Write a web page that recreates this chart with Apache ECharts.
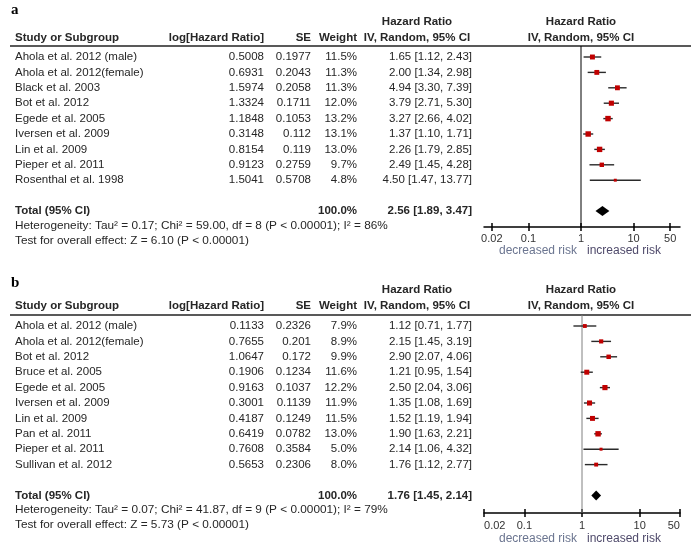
<!DOCTYPE html>
<html><head><meta charset="utf-8">
<script src="https://cdn.jsdelivr.net/npm/echarts@6/dist/echarts.min.js"></script>
<style>html,body{margin:0;padding:0;background:#fff}#c{width:694px;height:547px}</style>
</head><body><div id="c"></div>
<script>
// ---------- DATA ----------
const studiesA = ['Ahola et al. 2012 (male)', 'Ahola et al. 2012(female)', 'Black et al. 2003', 'Bot et al. 2012', 'Egede et al. 2005', 'Iversen et al. 2009', 'Lin et al. 2009', 'Pieper et al. 2011', 'Rosenthal et al. 1998'];
const logHrA = ['0.5008', '0.6931', '1.5974', '1.3324', '1.1848', '0.3148', '0.8154', '0.9123', '1.5041'];
const seA = ['0.1977', '0.2043', '0.2058', '0.1711', '0.1053', '0.112', '0.119', '0.2759', '0.5708'];
const weightA = [11.5, 11.3, 11.3, 12.0, 13.2, 13.1, 13.0, 9.7, 4.8];
const hrA = [1.65, 2.00, 4.94, 3.79, 3.27, 1.37, 2.26, 2.49, 4.50];
const lowA = [1.12, 1.34, 3.30, 2.71, 2.66, 1.10, 1.79, 1.45, 1.47];
const highA = [2.43, 2.98, 7.39, 5.30, 4.02, 1.71, 2.85, 4.28, 13.77];
const totalA = [2.56, 1.89, 3.47];
const hetA = 'Heterogeneity: Tau\u00b2 = 0.17; Chi\u00b2 = 59.00, df = 8 (P < 0.00001); I\u00b2 = 86%';
const testA = 'Test for overall effect: Z = 6.10 (P < 0.00001)';

const studiesB = ['Ahola et al. 2012 (male)', 'Ahola et al. 2012(female)', 'Bot et al. 2012', 'Bruce et al. 2005', 'Egede et al. 2005', 'Iversen et al. 2009', 'Lin et al. 2009', 'Pan et al. 2011', 'Pieper et al. 2011', 'Sullivan et al. 2012'];
const logHrB = ['0.1133', '0.7655', '1.0647', '0.1906', '0.9163', '0.3001', '0.4187', '0.6419', '0.7608', '0.5653'];
const seB = ['0.2326', '0.201', '0.172', '0.1234', '0.1037', '0.1139', '0.1249', '0.0782', '0.3584', '0.2306'];
const weightB = [7.9, 8.9, 9.9, 11.6, 12.2, 11.9, 11.5, 13.0, 5.0, 8.0];
const hrB = [1.12, 2.15, 2.90, 1.21, 2.50, 1.35, 1.52, 1.90, 2.14, 1.76];
const lowB = [0.71, 1.45, 2.07, 0.95, 2.04, 1.08, 1.19, 1.63, 1.06, 1.12];
const highB = [1.77, 3.19, 4.06, 1.54, 3.06, 1.69, 1.94, 2.21, 4.32, 2.77];
const totalB = [1.76, 1.45, 2.14];
const hetB = 'Heterogeneity: Tau\u00b2 = 0.07; Chi\u00b2 = 41.87, df = 9 (P < 0.00001); I\u00b2 = 79%';
const testB = 'Test for overall effect: Z = 5.73 (P < 0.00001)';

const tickValues = [0.02, 0.1, 1, 10, 50];
const headerCols = ['Study or Subgroup', 'log[Hazard Ratio]', 'SE', 'Weight', 'Hazard Ratio', 'IV, Random, 95% CI'];
const riskLabels = ['decreased risk', 'increased risk'];

// ---------- LAYOUT ----------
const FONT = '"Liberation Sans", Arial, sans-serif';
const FS = '11.5px ';
const TXT = '#262626';
const STEP = 15.4;
const X_NAME = 15, X_LOG = 264, X_SE = 311, X_W = 357, X_CI = 472, X_HDR = 417, X_PLOT_HDR = 581;
const GRID_L = 484, GRID_R = 14;

const panels = [
  { tag: 'a', tagY: 10, h1: 22, h2: 38, lineY: 46, rowTop: 57, totalIdx: 10, hetY: 226, testY: 241, axisY: 227, riskY: 251,
    xmin: 0.01419, xmax: 76.9, refColor: '#000', margin: 6, alignEnds: false,
    studies: studiesA, logHr: logHrA, se: seA, weight: weightA, hr: hrA, low: lowA, high: highA, total: totalA, het: hetA, test: testA },
  { tag: 'b', tagY: 283, h1: 290, h2: 306, lineY: 315, rowTop: 326, totalIdx: 11, hetY: 510, testY: 525, axisY: 513, riskY: 539,
    xmin: 0.01995, xmax: 50.1, refColor: '#808080', margin: 7, alignEnds: true,
    studies: studiesB, logHr: logHrB, se: seB, weight: weightB, hr: hrB, low: lowB, high: highB, total: totalB, het: hetB, test: testB }
];

const grids = [], xAxes = [], yAxes = [], series = [], gfx = [];

function txt(x, y, text, opt) {
  opt = opt || {};
  gfx.push({ type: 'text', x: x, y: y, silent: true, style: {
    text: text, fill: opt.fill || TXT, font: opt.font || (FS + FONT),
    textAlign: opt.align || 'left', textVerticalAlign: 'middle' } });
}

panels.forEach(function (p, pi) {
  const bold = 'bold ' + FS + FONT;
  const ymin = (p.lineY - p.rowTop) / STEP;
  const ymax = (p.axisY - p.rowTop) / STEP;
  grids.push({ left: GRID_L, right: GRID_R, top: p.lineY, height: p.axisY - p.lineY, containLabel: false });
  const axisCommon = { type: 'log', logBase: 10, min: p.xmin, max: p.xmax, gridIndex: pi, position: 'bottom', offset: 0,
    splitLine: { show: false }, minorTick: { show: false } };
  xAxes.push(Object.assign({}, axisCommon, {
    axisLine: { show: true, onZero: false, lineStyle: { color: '#000', width: 1.5 } },
    axisTick: { show: true, customValues: tickValues, length: 4, inside: false, lineStyle: { color: '#000', width: 1.5 } },
    axisLabel: { show: true, customValues: tickValues, margin: p.margin, fontSize: 11, fontFamily: FONT, color: '#333',
      formatter: function (v) { return String(+(+v).toPrecision(3)); },
      alignMinLabel: p.alignEnds ? 'left' : 'center', alignMaxLabel: p.alignEnds ? 'right' : 'center' }
  }));
  xAxes.push(Object.assign({}, axisCommon, {
    axisLine: { show: false, onZero: false },
    axisTick: { show: true, customValues: tickValues, length: 4, inside: true, lineStyle: { color: '#000', width: 1.5 } },
    axisLabel: { show: false }
  }));
  yAxes.push({ type: 'value', gridIndex: pi, min: ymin, max: ymax, inverse: true, show: false });

  // reference line at HR = 1
  series.push({ type: 'line', xAxisIndex: pi * 2, yAxisIndex: pi, data: [[1, ymin], [1, ymax]], symbol: 'none',
    lineStyle: { color: p.refColor, width: 1 }, silent: true, z: 1 });

  // study CIs and squares
  series.push({ type: 'custom', xAxisIndex: pi * 2, yAxisIndex: pi, clip: false, silent: true, z: 3,
    data: p.hr.map(function (v, i) { return [p.low[i], i, p.high[i], v, p.weight[i]]; }),
    encode: { x: [0, 2, 3], y: 1 },
    renderItem: function (params, api) {
      const idx = api.value(1);
      const a = api.coord([api.value(0), idx]);
      const b = api.coord([api.value(2), idx]);
      const c = api.coord([api.value(3), idx]);
      const s = 1.5 + 0.3 * api.value(4);
      return { type: 'group', children: [
        { type: 'line', shape: { x1: a[0], y1: a[1], x2: b[0], y2: b[1] }, style: { stroke: '#2a2a2a', lineWidth: 1.4 } },
        { type: 'rect', shape: { x: c[0] - s / 2, y: c[1] - s / 2, width: s, height: s }, style: { fill: '#c00000' } }
      ] };
    } });

  // pooled diamond
  series.push({ type: 'custom', xAxisIndex: pi * 2, yAxisIndex: pi, clip: false, silent: true, z: 3,
    data: [[p.total[1], p.totalIdx, p.total[2], p.total[0]]],
    encode: { x: [0, 2, 3], y: 1 },
    renderItem: function (params, api) {
      const idx = api.value(1);
      const a = api.coord([api.value(0), idx]);
      const b = api.coord([api.value(2), idx]);
      const c = api.coord([api.value(3), idx]);
      return { type: 'polygon', shape: { points: [[a[0], a[1]], [c[0], c[1] - 5], [b[0], b[1]], [c[0], c[1] + 5]] }, style: { fill: '#000' } };
    } });

  // table text
  txt(11, p.tagY, p.tag, { font: 'bold 15px "Liberation Serif", "Times New Roman", serif', fill: '#000' });
  txt(X_HDR, p.h1, headerCols[4], { font: bold, align: 'center' });
  txt(X_PLOT_HDR, p.h1, headerCols[4], { font: bold, align: 'center' });
  txt(X_NAME, p.h2, headerCols[0], { font: bold });
  txt(X_LOG, p.h2, headerCols[1], { font: bold, align: 'right' });
  txt(X_SE, p.h2, headerCols[2], { font: bold, align: 'right' });
  txt(X_W, p.h2, headerCols[3], { font: bold, align: 'right' });
  txt(X_HDR, p.h2, headerCols[5], { font: bold, align: 'center' });
  txt(X_PLOT_HDR, p.h2, headerCols[5], { font: bold, align: 'center' });
  gfx.push({ type: 'line', silent: true, shape: { x1: 10, y1: p.lineY, x2: 691, y2: p.lineY }, style: { stroke: '#222', lineWidth: 1.5 } });

  p.studies.forEach(function (name, i) {
    const y = p.rowTop + i * STEP;
    txt(X_NAME, y, name);
    txt(X_LOG, y, p.logHr[i], { align: 'right' });
    txt(X_SE, y, p.se[i], { align: 'right' });
    txt(X_W, y, p.weight[i].toFixed(1) + '%', { align: 'right' });
    txt(X_CI, y, p.hr[i].toFixed(2) + ' [' + p.low[i].toFixed(2) + ', ' + p.high[i].toFixed(2) + ']', { align: 'right' });
  });
  const ty = p.rowTop + p.totalIdx * STEP;
  txt(X_NAME, ty, 'Total (95% CI)', { font: bold });
  txt(X_W, ty, '100.0%', { font: bold, align: 'right' });
  txt(X_CI, ty, p.total[0].toFixed(2) + ' [' + p.total[1].toFixed(2) + ', ' + p.total[2].toFixed(2) + ']', { font: bold, align: 'right' });
  txt(X_NAME, p.hetY, p.het, { font: '11.8px ' + FONT });
  txt(X_NAME, p.testY, p.test, { font: '11.8px ' + FONT });
  txt(577, p.riskY, riskLabels[0], { align: 'right', fill: '#6b7590', font: '12px ' + FONT });
  txt(587, p.riskY, riskLabels[1], { align: 'left', fill: '#4f4a6b', font: '12px ' + FONT });
});

const chart = echarts.init(document.getElementById('c'), null, { renderer: 'canvas' });
chart.setOption({
  animation: false,
  backgroundColor: '#fff',
  grid: grids,
  xAxis: xAxes,
  yAxis: yAxes,
  series: series,
  graphic: { elements: gfx }
});
</script>
</body></html>
